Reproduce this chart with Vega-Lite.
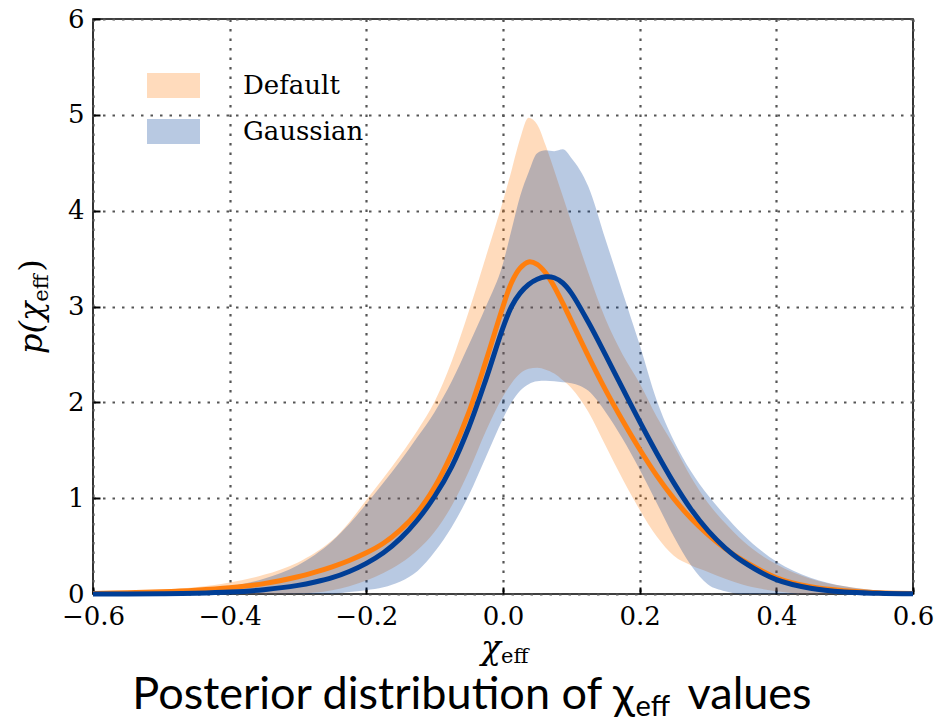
{
  "$schema": "https://vega.github.io/schema/vega-lite/v6.json",
  "width": 820,
  "height": 575,
  "autosize": "none",
  "padding": {"left": 93, "top": 19, "right": 27, "bottom": 131},
  "background": "white",
  "config": {
    "view": {"stroke": "#000000", "strokeWidth": 1.6},
    "font": "DejaVu Serif",
    "axis": {
      "domain": false,
      "grid": true,
      "gridColor": "#555555",
      "gridDash": [2.5, 7],
      "gridWidth": 2.2,
      "gridOpacity": 1,
      "ticks": true,
      "tickColor": "#000000",
      "tickSize": -7,
      "tickWidth": 2,
      "labelFont": "DejaVu Serif",
      "labelFontSize": 26,
      "labelColor": "#000000",
      "title": null
    }
  },
  "data": {
    "values": [
      {"x": -0.6, "m": "Default", "lo": 0, "med": 0.006, "hi": 0.01},
      {"x": -0.55, "m": "Default", "lo": 0, "med": 0.012, "hi": 0.02},
      {"x": -0.5, "m": "Default", "lo": 0, "med": 0.023, "hi": 0.04},
      {"x": -0.45, "m": "Default", "lo": 0, "med": 0.04, "hi": 0.07},
      {"x": -0.4, "m": "Default", "lo": 0, "med": 0.066, "hi": 0.12},
      {"x": -0.35, "m": "Default", "lo": 0, "med": 0.108, "hi": 0.2},
      {"x": -0.3, "m": "Default", "lo": 0.005, "med": 0.18, "hi": 0.33},
      {"x": -0.275, "m": "Default", "lo": 0.015, "med": 0.228, "hi": 0.43},
      {"x": -0.25, "m": "Default", "lo": 0.04, "med": 0.284, "hi": 0.56},
      {"x": -0.225, "m": "Default", "lo": 0.08, "med": 0.35, "hi": 0.75},
      {"x": -0.2, "m": "Default", "lo": 0.14, "med": 0.43, "hi": 0.98},
      {"x": -0.175, "m": "Default", "lo": 0.22, "med": 0.53, "hi": 1.21},
      {"x": -0.15, "m": "Default", "lo": 0.32, "med": 0.67, "hi": 1.45},
      {"x": -0.125, "m": "Default", "lo": 0.46, "med": 0.855, "hi": 1.71},
      {"x": -0.1, "m": "Default", "lo": 0.65, "med": 1.115, "hi": 2.01},
      {"x": -0.075, "m": "Default", "lo": 0.92, "med": 1.465, "hi": 2.43},
      {"x": -0.05, "m": "Default", "lo": 1.28, "med": 1.895, "hi": 2.95},
      {"x": -0.025, "m": "Default", "lo": 1.7, "med": 2.43, "hi": 3.52},
      {"x": 0.0, "m": "Default", "lo": 2.06, "med": 3.0, "hi": 4.1},
      {"x": 0.0125, "m": "Default", "lo": 2.2, "med": 3.25, "hi": 4.42},
      {"x": 0.025, "m": "Default", "lo": 2.3, "med": 3.4, "hi": 4.75},
      {"x": 0.0375, "m": "Default", "lo": 2.35, "med": 3.465, "hi": 4.97},
      {"x": 0.05, "m": "Default", "lo": 2.36, "med": 3.44, "hi": 4.9},
      {"x": 0.0625, "m": "Default", "lo": 2.34, "med": 3.35, "hi": 4.68},
      {"x": 0.075, "m": "Default", "lo": 2.3, "med": 3.207, "hi": 4.42},
      {"x": 0.0875, "m": "Default", "lo": 2.23, "med": 3.035, "hi": 4.15},
      {"x": 0.1, "m": "Default", "lo": 2.15, "med": 2.85, "hi": 3.88},
      {"x": 0.125, "m": "Default", "lo": 1.9, "med": 2.48, "hi": 3.35},
      {"x": 0.15, "m": "Default", "lo": 1.55, "med": 2.13, "hi": 2.87},
      {"x": 0.175, "m": "Default", "lo": 1.2, "med": 1.81, "hi": 2.5},
      {"x": 0.2, "m": "Default", "lo": 0.88, "med": 1.51, "hi": 2.2},
      {"x": 0.225, "m": "Default", "lo": 0.6, "med": 1.235, "hi": 1.85},
      {"x": 0.25, "m": "Default", "lo": 0.4, "med": 0.995, "hi": 1.55},
      {"x": 0.275, "m": "Default", "lo": 0.3, "med": 0.79, "hi": 1.22},
      {"x": 0.3, "m": "Default", "lo": 0.23, "med": 0.62, "hi": 0.95},
      {"x": 0.325, "m": "Default", "lo": 0.16, "med": 0.475, "hi": 0.74},
      {"x": 0.35, "m": "Default", "lo": 0.1, "med": 0.355, "hi": 0.56},
      {"x": 0.4, "m": "Default", "lo": 0.03, "med": 0.17, "hi": 0.31},
      {"x": 0.45, "m": "Default", "lo": 0, "med": 0.075, "hi": 0.16},
      {"x": 0.5, "m": "Default", "lo": 0, "med": 0.033, "hi": 0.08},
      {"x": 0.55, "m": "Default", "lo": 0, "med": 0.013, "hi": 0.035},
      {"x": 0.6, "m": "Default", "lo": 0, "med": 0.005, "hi": 0.015},
      {"x": -0.6, "m": "Gaussian", "lo": 0, "med": 0.0, "hi": 0.005},
      {"x": -0.55, "m": "Gaussian", "lo": 0, "med": 0.001, "hi": 0.01},
      {"x": -0.5, "m": "Gaussian", "lo": 0, "med": 0.003, "hi": 0.02},
      {"x": -0.45, "m": "Gaussian", "lo": 0, "med": 0.008, "hi": 0.04},
      {"x": -0.4, "m": "Gaussian", "lo": 0, "med": 0.02, "hi": 0.08},
      {"x": -0.35, "m": "Gaussian", "lo": 0, "med": 0.045, "hi": 0.16},
      {"x": -0.3, "m": "Gaussian", "lo": 0, "med": 0.09, "hi": 0.3},
      {"x": -0.275, "m": "Gaussian", "lo": 0, "med": 0.125, "hi": 0.41},
      {"x": -0.25, "m": "Gaussian", "lo": 0, "med": 0.17, "hi": 0.55},
      {"x": -0.225, "m": "Gaussian", "lo": 0.02, "med": 0.235, "hi": 0.73},
      {"x": -0.2, "m": "Gaussian", "lo": 0.04, "med": 0.32, "hi": 0.94},
      {"x": -0.175, "m": "Gaussian", "lo": 0.07, "med": 0.43, "hi": 1.16},
      {"x": -0.15, "m": "Gaussian", "lo": 0.13, "med": 0.58, "hi": 1.39},
      {"x": -0.125, "m": "Gaussian", "lo": 0.24, "med": 0.775, "hi": 1.64},
      {"x": -0.1, "m": "Gaussian", "lo": 0.44, "med": 1.02, "hi": 1.9},
      {"x": -0.075, "m": "Gaussian", "lo": 0.7, "med": 1.33, "hi": 2.22},
      {"x": -0.05, "m": "Gaussian", "lo": 1.03, "med": 1.74, "hi": 2.6},
      {"x": -0.025, "m": "Gaussian", "lo": 1.43, "med": 2.24, "hi": 3.0},
      {"x": 0.0, "m": "Gaussian", "lo": 1.83, "med": 2.78, "hi": 3.45},
      {"x": 0.0125, "m": "Gaussian", "lo": 2.0, "med": 3.0, "hi": 3.8},
      {"x": 0.025, "m": "Gaussian", "lo": 2.12, "med": 3.14, "hi": 4.15},
      {"x": 0.0375, "m": "Gaussian", "lo": 2.19, "med": 3.23, "hi": 4.4},
      {"x": 0.05, "m": "Gaussian", "lo": 2.22, "med": 3.285, "hi": 4.6},
      {"x": 0.0625, "m": "Gaussian", "lo": 2.225, "med": 3.31, "hi": 4.63},
      {"x": 0.075, "m": "Gaussian", "lo": 2.22, "med": 3.3, "hi": 4.62},
      {"x": 0.0875, "m": "Gaussian", "lo": 2.21, "med": 3.245, "hi": 4.64},
      {"x": 0.1, "m": "Gaussian", "lo": 2.2, "med": 3.14, "hi": 4.55},
      {"x": 0.125, "m": "Gaussian", "lo": 2.12, "med": 2.835, "hi": 4.25},
      {"x": 0.15, "m": "Gaussian", "lo": 1.9, "med": 2.495, "hi": 3.7},
      {"x": 0.175, "m": "Gaussian", "lo": 1.62, "med": 2.145, "hi": 3.15},
      {"x": 0.2, "m": "Gaussian", "lo": 1.3, "med": 1.8, "hi": 2.6},
      {"x": 0.225, "m": "Gaussian", "lo": 0.95, "med": 1.469, "hi": 2.02},
      {"x": 0.25, "m": "Gaussian", "lo": 0.6, "med": 1.159, "hi": 1.6},
      {"x": 0.275, "m": "Gaussian", "lo": 0.3, "med": 0.886, "hi": 1.28},
      {"x": 0.3, "m": "Gaussian", "lo": 0.1, "med": 0.661, "hi": 1.03},
      {"x": 0.325, "m": "Gaussian", "lo": 0.03, "med": 0.482, "hi": 0.82},
      {"x": 0.35, "m": "Gaussian", "lo": 0, "med": 0.343, "hi": 0.63},
      {"x": 0.4, "m": "Gaussian", "lo": 0, "med": 0.15, "hi": 0.34},
      {"x": 0.45, "m": "Gaussian", "lo": 0, "med": 0.06, "hi": 0.17},
      {"x": 0.5, "m": "Gaussian", "lo": 0, "med": 0.02, "hi": 0.08},
      {"x": 0.55, "m": "Gaussian", "lo": 0, "med": 0.007, "hi": 0.035},
      {"x": 0.6, "m": "Gaussian", "lo": 0, "med": 0.002, "hi": 0.012}
    ]
  },
  "layer": [
    {
      "mark": {"type": "area", "opacity": 0.28, "interpolate": "monotone"},
      "encoding": {
        "x": {"field": "x", "type": "quantitative", "scale": {"domain": [-0.6, 0.6], "nice": false, "zero": false},
              "axis": {"values": [-0.6, -0.4, -0.2, 0, 0.2, 0.4, 0.6], "format": ".1f", "labelPadding": 16, "labelFlush": false}},
        "y": {"field": "lo", "type": "quantitative", "scale": {"domain": [0, 6], "nice": false},
              "axis": {"values": [0, 1, 2, 3, 4, 5, 6], "format": "d", "labelPadding": 16}},
        "y2": {"field": "hi"},
        "color": {"field": "m", "type": "nominal", "sort": ["Default", "Gaussian"],
                  "scale": {"domain": ["Default", "Gaussian"], "range": ["#ff7f0e", "#003e96"]},
                  "legend": {
                    "title": null, "orient": "none", "legendX": 54, "legendY": 44,
                    "symbolType": "M-1,-0.47H1V0.47H-1Z", "symbolSize": 2809, "symbolOpacity": 0.28,
                    "symbolStrokeWidth": 0, "labelFont": "DejaVu Serif", "labelFontSize": 26,
                    "labelColor": "#000000", "labelOffset": 43, "clipHeight": 45, "rowPadding": 1, "padding": 0
                  }},
        "order": {"field": "m"}
      }
    },
    {
      "mark": {"type": "line", "strokeWidth": 5, "interpolate": "catmull-rom"},
      "encoding": {
        "x": {"field": "x", "type": "quantitative"},
        "y": {"field": "med", "type": "quantitative"},
        "color": {"field": "m", "type": "nominal", "legend": null,
                  "scale": {"domain": ["Default", "Gaussian"], "range": ["#ff7f0e", "#003e96"]}}
      }
    },
    {
      "data": {"values": [{"t": "χ"}]},
      "mark": {"type": "text", "text": "χ", "font": "DejaVu Serif", "fontStyle": "italic", "fontSize": 33, "align": "right", "baseline": "alphabetic", "dx": -2, "clip": false},
      "encoding": {"x": {"datum": 0}, "y": {"datum": -0.68}}
    },
    {
      "data": {"values": [{"t": "eff"}]},
      "mark": {"type": "text", "text": "eff", "font": "DejaVu Serif", "fontSize": 21, "align": "left", "baseline": "alphabetic", "dx": -2, "dy": 4, "clip": false},
      "encoding": {"x": {"datum": 0}, "y": {"datum": -0.68}}
    },
    {
      "data": {"values": [{"t": "p(χ"}]},
      "mark": {"type": "text", "text": "p(χ", "font": "DejaVu Serif", "fontStyle": "italic", "fontSize": 32, "align": "right", "baseline": "alphabetic", "angle": 270, "clip": false},
      "encoding": {"x": {"datum": -0.675}, "y": {"datum": 3.05}}
    },
    {
      "data": {"values": [{"t": "eff"}]},
      "mark": {"type": "text", "text": "eff", "font": "DejaVu Serif", "fontSize": 21, "align": "left", "baseline": "alphabetic", "angle": 270, "dx": 0, "dy": 6, "clip": false},
      "encoding": {"x": {"datum": -0.675}, "y": {"datum": 3.05}}
    },
    {
      "data": {"values": [{"t": ")"}]},
      "mark": {"type": "text", "text": ")", "font": "DejaVu Serif", "fontSize": 32, "align": "left", "baseline": "alphabetic", "angle": 270, "dx": 30, "clip": false},
      "encoding": {"x": {"datum": -0.675}, "y": {"datum": 3.05}}
    },
    {
      "data": {"values": [{"t": "Posterior distribution of χ"}]},
      "mark": {"type": "text", "text": "Posterior distribution of χ", "font": "Lato", "fontSize": 45, "align": "right", "baseline": "alphabetic", "dx": 0, "clip": false, "color": "#000000"},
      "encoding": {"x": {"datum": 0.1925}, "y": {"datum": -1.2}}
    },
    {
      "data": {"values": [{"t": "eff"}]},
      "mark": {"type": "text", "text": "eff", "font": "Lato", "fontSize": 29, "align": "left", "baseline": "alphabetic", "dx": 1, "dy": 7, "clip": false, "color": "#000000"},
      "encoding": {"x": {"datum": 0.1925}, "y": {"datum": -1.2}}
    },
    {
      "data": {"values": [{"t": "values"}]},
      "mark": {"type": "text", "text": "values", "font": "Lato", "fontSize": 45, "align": "left", "baseline": "alphabetic", "dx": 53, "clip": false, "color": "#000000"},
      "encoding": {"x": {"datum": 0.1925}, "y": {"datum": -1.2}}
    }
  ]
}
